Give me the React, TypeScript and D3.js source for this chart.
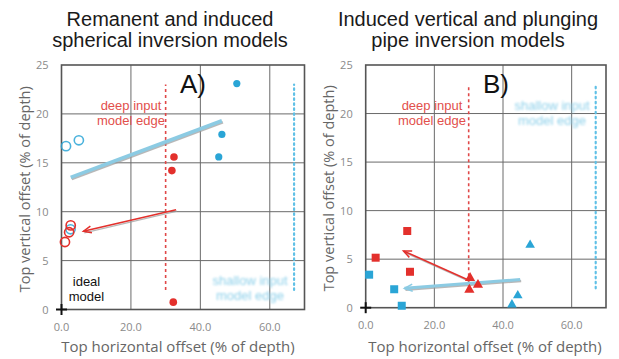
import React from "react";
import * as d3 from "d3";

// ---- data ----
type Pt = [number, number];

// Panel A: spherical inversion models
const aBlueDots: Pt[] = [[50.5, 23.1], [46.2, 17.9], [45.3, 15.6]];
const aBlueOpen: Pt[] = [[1.3, 16.7], [5.0, 17.3], [2.6, 8.2]];
const aRedDots: Pt[] = [[32.4, 15.6], [31.8, 14.2], [32.2, 0.75]];
const aRedOpen: Pt[] = [[2.65, 8.6], [2.2, 7.9], [1.0, 6.9]];
const aBlueTrend: Pt[] = [[2.65, 13.5], [46.2, 19.3]];
const aRedArrow: Pt[] = [[33.0, 10.2], [6.3, 8.0]];

// Panel B: vertical and plunging pipe models
const bRedSquares: Pt[] = [[12.1, 7.9], [2.9, 5.15], [12.9, 3.7]];
const bBlueSquares: Pt[] = [[1.0, 3.4], [8.3, 1.9], [10.5, 0.2]];
const bRedTriangles: Pt[] = [[30.4, 3.1], [30.2, 1.9], [32.7, 2.4]];
const bBlueTriangles: Pt[] = [[47.9, 6.5], [44.3, 1.3], [42.6, 0.35]];
const bRedArrow: Pt[] = [[29.9, 2.85], [11.0, 5.85]];
const bBlueArrow: Pt[] = [[45.0, 2.9], [11.3, 2.0]];

const xTicks = [0, 20, 40, 60];
const yTicks = [0, 5, 10, 15, 20, 25];
const deepEdgeX = 30;
const shallowEdgeX = 67;
const edgeSpan: Pt = [2, 23];

const RED = "#e3302c";
const BLUE = "#2aa5d6";
const LIGHTBLUE = "#8ccbe3";
const AXIS_FONT = "'Open Sans', 'Noto Sans', sans-serif";
const TITLE_FONT = "'Liberation Sans', Arial, sans-serif";

interface PanelProps {
  id: string;
  left: number;
  right: number;
  top: number;
  bottom: number;
  title: string[];
  titleX: number;
  letter: string;
  letterX: number;
  yLabelX: number;
  tickY: number;
  xLabelX: number;
  deepLabelX: number;
  shallowLabel: { x: number; y: number };
  children: (x: d3.ScaleLinear<number, number>, y: d3.ScaleLinear<number, number>) => React.ReactNode;
}

function Arrow({ p, x, y, color, width, head }: { p: Pt[]; x: any; y: any; color: string; width: number; head: boolean }) {
  const x1 = x(p[0][0]), y1 = y(p[0][1]), x2 = x(p[1][0]), y2 = y(p[1][1]);
  const ang = Math.atan2(y2 - y1, x2 - x1);
  const hl = 8, hw = 3.5;
  const bx = x2 - hl * Math.cos(ang), by = y2 - hl * Math.sin(ang);
  const nx = -Math.sin(ang), ny = Math.cos(ang);
  const headPath = `M${bx + nx * hw},${by + ny * hw} L${x2},${y2} L${bx - nx * hw},${by - ny * hw}`;
  return (
    <g>
      <line x1={x1 + 1} y1={y1 + 1.5} x2={x2 + 1} y2={y2 + 1.5} stroke="#9a9a9a" strokeOpacity={0.7} strokeWidth={width * 0.8} />
      <line x1={x1} y1={y1} x2={x2} y2={y2} stroke={color} strokeWidth={width} />
      {head && <path d={headPath} fill="none" stroke={color} strokeWidth={1.5} />}
    </g>
  );
}

function Panel(props: PanelProps) {
  const { left, right, top, bottom } = props;
  const x = d3.scaleLinear().domain([0, 70]).range([left, right]);
  const y = d3.scaleLinear().domain([0, 25]).range([bottom, top]);
  return (
    <g>
      {props.title.map((t, i) => (
        <text key={i} x={props.titleX} y={26 + i * 21} textAnchor="middle" fontFamily={TITLE_FONT} fontSize={20} fill="#1a1a1a">
          {t}
        </text>
      ))}
      {/* grid */}
      {xTicks.filter((t) => t > 0).map((t) => (
        <line key={"gx" + t} x1={x(t)} x2={x(t)} y1={top} y2={bottom} stroke="#6a6a6a" strokeWidth={1} />
      ))}
      {yTicks.filter((t) => t > 0 && t < 25).map((t) => (
        <line key={"gy" + t} x1={left} x2={right} y1={y(t)} y2={y(t)} stroke="#6a6a6a" strokeWidth={1} />
      ))}
      <rect x={left} y={top} width={right - left} height={bottom - top} fill="none" stroke="#555" strokeWidth={1.6} />
      {/* ticks */}
      {yTicks.map((t) => (
        <text key={"ty" + t} x={left - 13} y={y(t) + 4} textAnchor="end" fontFamily={AXIS_FONT} fontSize={11} fill="#8a8a8a">
          {t}
        </text>
      ))}
      {xTicks.map((t) => (
        <text key={"tx" + t} x={x(t)} y={props.tickY} textAnchor="middle" fontFamily={AXIS_FONT} fontSize={11} fill="#8a8a8a">
          {d3.format(".1f")(t)}
        </text>
      ))}
      <text
        transform={`translate(${props.yLabelX},${(top + bottom) / 2 + 2}) rotate(-90)`}
        textAnchor="middle"
        fontFamily={AXIS_FONT}
        fontSize={14.5}
        fill="#666"
      >
        Top vertical offset (% of depth)
      </text>
      <text x={props.xLabelX} y={352} textAnchor="middle" fontFamily={AXIS_FONT} fontSize={15} fill="#666">
        Top horizontal offset (% of depth)
      </text>
      {/* panel letter */}
      <text x={props.letterX} y={93} fontFamily={TITLE_FONT} fontSize={26} fill="#111">
        {props.letter}
      </text>
      {/* model edges */}
      <line x1={x(deepEdgeX)} x2={x(deepEdgeX)} y1={y(edgeSpan[0])} y2={y(edgeSpan[1])} stroke="#e04848" strokeWidth={1.6} strokeDasharray="3,3" />
      <line x1={x(shallowEdgeX)} x2={x(shallowEdgeX)} y1={y(edgeSpan[0])} y2={y(edgeSpan[1])} stroke="#5fc0e6" strokeWidth={2.2} strokeDasharray="1.5,3.5" strokeLinecap="round" />
      <g fontFamily={TITLE_FONT} fontSize={13} fill="#e2504c" textAnchor="middle">
        <text x={props.deepLabelX} y={110}>deep input</text>
        <text x={props.deepLabelX} y={125}>model edge</text>
      </g>
      <g fontFamily={TITLE_FONT} fontSize={13} fill="#8fd0ea" textAnchor="middle" filter={`url(#blur-${props.id})`}>
        <text x={props.shallowLabel.x} y={props.shallowLabel.y}>shallow input</text>
        <text x={props.shallowLabel.x} y={props.shallowLabel.y + 15}>model edge</text>
      </g>
      {props.children(x, y)}
      {/* ideal model marker */}
      <g stroke="#111" strokeWidth={2}>
        <line x1={x(0) - 5.5} x2={x(0) + 5.5} y1={y(0)} y2={y(0)} />
        <line x1={x(0)} x2={x(0)} y1={y(0) - 5.5} y2={y(0) + 5.5} />
      </g>
    </g>
  );
}

const tri = (cx: number, cy: number, s: number) =>
  `M${cx},${cy - s * 0.65} L${cx + s * 0.6},${cy + s * 0.4} L${cx - s * 0.6},${cy + s * 0.4} Z`;

export default function App() {
  return (
    <svg width={619} height={359} style={{ position: "absolute", left: 0, top: 0, background: "#fff" }}>
      <defs>
        <filter id="blur-a" x="-10%" y="-30%" width="120%" height="160%">
          <feGaussianBlur stdDeviation={0.9} />
        </filter>
        <filter id="blur-b" x="-10%" y="-30%" width="120%" height="160%">
          <feGaussianBlur stdDeviation={0.9} />
        </filter>
      </defs>
      <Panel
        id="a"
        left={61.5}
        right={304.5}
        top={65}
        bottom={309.5}
        title={["Remanent and induced", "spherical inversion models"]}
        titleX={170}
        letter="A)"
        letterX={180}
        yLabelX={30}
        tickY={331}
        xLabelX={178}
        deepLabelX={131}
        shallowLabel={{ x: 250, y: 285 }}
      >
        {(x, y) => (
          <g>
            <Arrow p={aBlueTrend} x={x} y={y} color={LIGHTBLUE} width={3.5} head={false} />
            <Arrow p={aRedArrow} x={x} y={y} color={RED} width={1.6} head={true} />
            {aBlueOpen.map((d, i) => (
              <circle key={"bo" + i} cx={x(d[0])} cy={y(d[1])} r={4.6} fill="none" stroke={BLUE} strokeWidth={1.6} opacity={0.85} />
            ))}
            {aRedOpen.map((d, i) => (
              <circle key={"ro" + i} cx={x(d[0])} cy={y(d[1])} r={4.6} fill="none" stroke={RED} strokeWidth={1.6} />
            ))}
            {aBlueDots.map((d, i) => (
              <circle key={"bd" + i} cx={x(d[0])} cy={y(d[1])} r={3.6} fill={BLUE} />
            ))}
            {aRedDots.map((d, i) => (
              <circle key={"rd" + i} cx={x(d[0])} cy={y(d[1])} r={3.8} fill={RED} />
            ))}
            <text x={x(0) + 25} y={y(2.4)} textAnchor="middle" fontFamily={TITLE_FONT} fontSize={13} fill="#111">ideal</text>
            <text x={x(0) + 25} y={y(0.85)} textAnchor="middle" fontFamily={TITLE_FONT} fontSize={13} fill="#111">model</text>
          </g>
        )}
      </Panel>
      <Panel
        id="b"
        left={365.7}
        right={606}
        top={65}
        bottom={307.7}
        title={["Induced vertical and plunging", "pipe inversion models"]}
        titleX={468}
        letter="B)"
        letterX={483}
        yLabelX={334}
        tickY={329}
        xLabelX={485}
        deepLabelX={432}
        shallowLabel={{ x: 552, y: 110 }}
      >
        {(x, y) => (
          <g>
            <Arrow p={bBlueArrow} x={x} y={y} color={LIGHTBLUE} width={3} head={true} />
            <Arrow p={bRedArrow} x={x} y={y} color={RED} width={1.6} head={true} />
            {bRedSquares.map((d, i) => (
              <rect key={"rs" + i} x={x(d[0]) - 4} y={y(d[1]) - 4} width={8} height={8} fill={RED} />
            ))}
            {bBlueSquares.map((d, i) => (
              <rect key={"bs" + i} x={x(d[0]) - 4} y={y(d[1]) - 4} width={8} height={8} fill={BLUE} />
            ))}
            {bRedTriangles.map((d, i) => (
              <path key={"rt" + i} d={tri(x(d[0]), y(d[1]), 8.5)} fill={RED} />
            ))}
            {bBlueTriangles.map((d, i) => (
              <path key={"bt" + i} d={tri(x(d[0]), y(d[1]), 8)} fill={BLUE} />
            ))}
          </g>
        )}
      </Panel>
    </svg>
  );
}
